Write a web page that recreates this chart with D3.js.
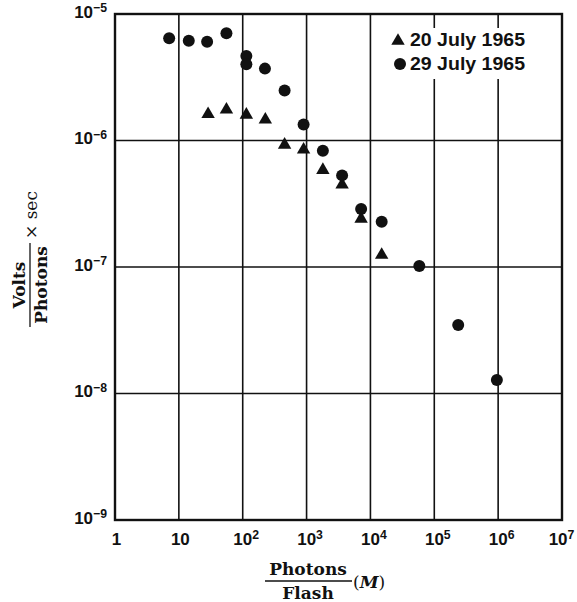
<!DOCTYPE html>
<html>
<head>
<meta charset="utf-8">
<script src="https://cdn.jsdelivr.net/npm/d3@7"></script>
<style>
  html, body { margin: 0; padding: 0; background: #fff; }
  svg { display: block; }
</style>
</head>
<body>
<svg id="chart" width="577" height="602"></svg>
<script>
// ---- data ----
const july20X = [28.7, 55.6, 114, 226, 453, 898, 1800, 3600, 7150, 15000];
const july20Y = [1.66e-6, 1.80e-6, 1.64e-6, 1.50e-6, 9.5e-7, 8.7e-7, 6.0e-7, 4.6e-7, 2.47e-7, 1.28e-7];

const july29X = [7.05, 14.3, 27.7, 55.6, 114, 114, 223, 453, 898, 1800, 3600, 7150, 15000, 58300, 237000, 955000];
const july29Y = [6.43e-6, 6.15e-6, 6.04e-6, 7.03e-6, 4.66e-6, 4.0e-6, 3.70e-6, 2.48e-6, 1.34e-6, 8.3e-7, 5.3e-7, 2.87e-7, 2.28e-7, 1.02e-7, 3.48e-8, 1.28e-8];

const xTickValues = [1, 10, 100, 1e3, 1e4, 1e5, 1e6, 1e7];
const xTickLabels = ["1", "10", "10^2", "10^3", "10^4", "10^5", "10^6", "10^7"];
const yTickValues = [1e-9, 1e-8, 1e-7, 1e-6, 1e-5];
const yTickLabels = ["10^\u22129", "10^\u22128", "10^\u22127", "10^\u22126", "10^\u22125"];

const seriesNames = ["20 July 1965", "29 July 1965"];

// ---- layout ----
const svg = d3.select("#chart");
const L = 115, R = 562, T = 14, B = 520;

const x = d3.scaleLog().domain([1, 1e7]).range([L, R]);
const y = d3.scaleLog().domain([1e-9, 1e-5]).range([B, T]);

const sansFont = "'Liberation Sans', Arial, sans-serif";
const serifFont = "'DejaVu Serif', serif";

// gridlines
const grid = svg.append("g");
grid.selectAll("line.vx").data(xTickValues.slice(1, -1)).join("line")
  .attr("x1", d => x(d)).attr("x2", d => x(d))
  .attr("y1", T).attr("y2", B)
  .attr("stroke", "#111").attr("stroke-width", 1.6);
grid.selectAll("line.hy").data(yTickValues.slice(1, -1)).join("line")
  .attr("x1", L).attr("x2", R)
  .attr("y1", d => y(d)).attr("y2", d => y(d))
  .attr("stroke", "#111").attr("stroke-width", 1.6);

// helper for superscripted labels
function writeLabel(sel, label) {
  sel.text(null);
  const parts = label.split("^");
  sel.append("tspan").text(parts[0]);
  if (parts.length > 1) {
    sel.append("tspan").attr("dy", "-0.45em").attr("font-size", "0.72em").text(parts[1]);
  }
}

// x axis
const xAxis = d3.axisBottom(x).tickValues(xTickValues).tickSize(0).tickPadding(0)
  .tickFormat((d, i) => xTickLabels[i]);
const gx = svg.append("g").attr("transform", `translate(0,${B})`).call(xAxis);
gx.select(".domain").remove();
gx.selectAll(".tick text")
  .attr("y", 25).attr("dy", null)
  .attr("font-family", sansFont).attr("font-size", 17).attr("font-weight", "bold")
  .attr("fill", "#111").attr("text-anchor", "middle")
  .each(function(d, i) { writeLabel(d3.select(this), xTickLabels[i]); })
  .attr("dx", (d, i) => i === xTickLabels.length - 1 ? -1 : (xTickLabels[i].includes("^") ? 3 : 1));

// y axis
const yAxis = d3.axisLeft(y).tickValues(yTickValues).tickSize(0).tickPadding(0)
  .tickFormat((d, i) => yTickLabels[i]);
const gy = svg.append("g").attr("transform", `translate(${L},0)`).call(yAxis);
gy.select(".domain").remove();
gy.selectAll(".tick text")
  .attr("x", -8).attr("dy", "0.2em")
  .attr("font-family", sansFont).attr("font-size", 17).attr("font-weight", "bold")
  .attr("fill", "#111").attr("text-anchor", "end")
  .each(function(d, i) { writeLabel(d3.select(this), yTickLabels[i]); });

// frame
svg.append("rect").attr("x", L).attr("y", T).attr("width", R - L).attr("height", B - T)
  .attr("fill", "none").attr("stroke", "#111").attr("stroke-width", 2.4);

// legend background
const lg = svg.append("g");
lg.append("rect").attr("x", 390).attr("y", 28).attr("width", 140).attr("height", 51).attr("fill", "#fff");

// data points
const sym = d3.symbol();
svg.append("g").selectAll("path").data(july20X.map((v, i) => [v, july20Y[i]])).join("path")
  .attr("transform", d => `translate(${x(d[0])},${y(d[1]) + 1.5})`)
  .attr("d", sym.type(d3.symbolTriangle).size(78)())
  .attr("fill", "#111");
svg.append("g").selectAll("circle").data(july29X.map((v, i) => [v, july29Y[i]])).join("circle")
  .attr("cx", d => x(d[0])).attr("cy", d => y(d[1])).attr("r", 6)
  .attr("fill", "#111");

// legend
lg.append("path").attr("transform", "translate(398,41)")
  .attr("d", d3.symbol(d3.symbolTriangle, 78)()).attr("fill", "#111");
lg.append("circle").attr("cx", 400).attr("cy", 64).attr("r", 6).attr("fill", "#111");
lg.selectAll("text").data(seriesNames).join("text")
  .attr("x", 410).attr("y", (d, i) => 46 + i * 24)
  .attr("font-family", sansFont).attr("font-size", 19).attr("font-weight", "bold")
  .attr("fill", "#111")
  .attr("textLength", 115).attr("lengthAdjust", "spacingAndGlyphs")
  .text(d => d);

// x title
const xt = svg.append("g").attr("transform", "translate(308,581)");
xt.append("text").attr("x", 0).attr("y", -6).attr("text-anchor", "middle")
  .attr("font-family", serifFont).attr("font-weight", "bold").attr("font-size", 17)
  .attr("fill", "#111").text("Photons");
xt.append("line").attr("x1", -43).attr("x2", 44).attr("y1", 0).attr("y2", 0)
  .attr("stroke", "#111").attr("stroke-width", 1.3);
xt.append("text").attr("x", 0).attr("y", 18).attr("text-anchor", "middle")
  .attr("font-family", serifFont).attr("font-weight", "bold").attr("font-size", 17)
  .attr("fill", "#111").text("Flash");
const mt = xt.append("text").attr("x", 45).attr("y", 7)
  .attr("font-family", serifFont).attr("font-size", 17).attr("fill", "#111");
mt.append("tspan").text("(");
mt.append("tspan").attr("font-style", "italic").attr("font-weight", "bold").text("M");
mt.append("tspan").text(")");

// y title
const yt = svg.append("g").attr("transform", "translate(30,285) rotate(-90)");
yt.append("text").attr("x", 0).attr("y", -5).attr("text-anchor", "middle")
  .attr("font-family", serifFont).attr("font-weight", "bold").attr("font-size", 17)
  .attr("fill", "#111").text("Volts");
yt.append("line").attr("x1", -42).attr("x2", 42).attr("y1", 0).attr("y2", 0)
  .attr("stroke", "#111").attr("stroke-width", 1.3);
yt.append("text").attr("x", 0).attr("y", 17).attr("text-anchor", "middle")
  .attr("font-family", serifFont).attr("font-weight", "bold").attr("font-size", 17)
  .attr("fill", "#111").text("Photons");
yt.append("text").attr("x", 46).attr("y", 7)
  .attr("font-family", serifFont).attr("font-size", 17)
  .attr("fill", "#111").text("\u00d7 sec");
</script>
</body>
</html>
